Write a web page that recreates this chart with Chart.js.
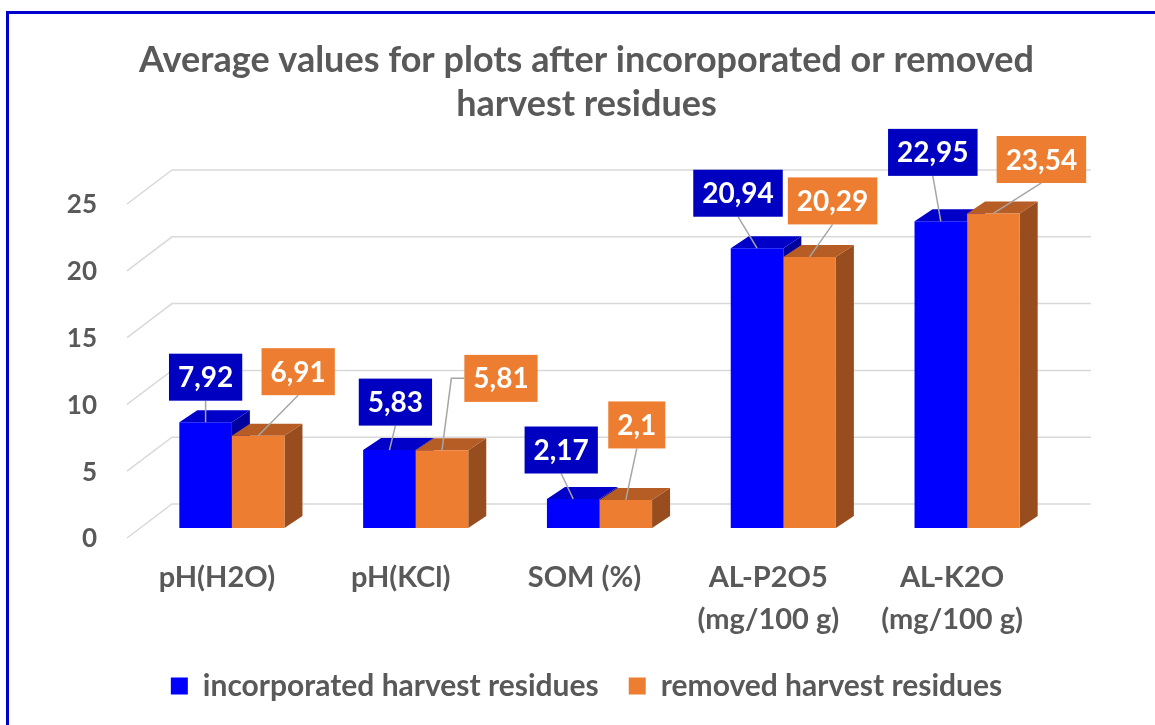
<!DOCTYPE html>
<html>
<head>
<meta charset="utf-8">
<script src="https://cdn.jsdelivr.net/npm/chart.js@4"></script>
<style>
  html, body { margin: 0; padding: 0; background: #fff; overflow: hidden; }
  #wrap { position: relative; width: 1155px; height: 725px; }
  #frame { position: absolute; left: 6px; top: 11px; right: -20px; bottom: -20px;
           border: 3px solid #0000cc; pointer-events: none; }
</style>
</head>
<body>
<div id="wrap">
  <canvas id="chart" width="1155" height="725"></canvas>
  <div id="frame"></div>
</div>
<script>
// data
const categories = ['pH(H2O)', 'pH(KCl)', 'SOM (%)', ['AL-P2O5', '(mg/100 g)'], ['AL-K2O', '(mg/100 g)']];
const incorporated = [7.92, 5.83, 2.17, 20.94, 22.95];
const removed = [6.91, 5.81, 2.1, 20.29, 23.54];
const yTicks = [0, 5, 10, 15, 20, 25];

// label box placement relative to bar top (px), as moved in the original
const incLabelPos = [[0, -45], [6, -48], [-12, -49], [-19, -55], [-8, -69]];
const remLabelPos = [[40, -64], [59, -72], [11, -75], [23, -56], [48, -54]];

const FONT = 'Lato, "Open Sans", sans-serif';
const GREY = '#595959';
const BAR_DX = 18, BAR_DY = -12;      // bar depth
const WALL_BACK = [32, -24];          // back wall offset from bar plane
const WALL_FRONT = [-13, 10];         // front floor edge offset

const faces = [
  { front: '#0000ff', top: '#0000c8', side: '#00009e', box: '#0000c0' },
  { front: '#ed7d31', top: '#b55d24', side: '#974d1e', box: '#ed7d31' }
];

function poly(ctx, pts, color) {
  ctx.beginPath();
  ctx.moveTo(pts[0][0], pts[0][1]);
  for (let i = 1; i < pts.length; i++) ctx.lineTo(pts[i][0], pts[i][1]);
  ctx.closePath();
  ctx.fillStyle = color;
  ctx.fill();
}

// walls, grid and the 3D sides of the bars
const depthPlugin = {
  id: 'depth',
  beforeDatasetsDraw(chart) {
    const ctx = chart.ctx;
    const y = chart.scales.y;
    const area = chart.chartArea;
    ctx.save();
    ctx.strokeStyle = '#d9d9d9';
    ctx.lineWidth = 1.5;
    yTicks.forEach(v => {
      const py = y.getPixelForValue(v);
      ctx.beginPath();
      ctx.moveTo(area.left + WALL_FRONT[0], py + WALL_FRONT[1]);
      ctx.lineTo(area.left + WALL_BACK[0], py + WALL_BACK[1]);
      ctx.lineTo(area.right + WALL_BACK[0], py + WALL_BACK[1]);
      ctx.stroke();
    });
    for (let i = 0; i < categories.length; i++) {
      chart.data.datasets.forEach((ds, d) => {
        const bar = chart.getDatasetMeta(d).data[i];
        const l = bar.x - bar.width / 2, r = bar.x + bar.width / 2;
        const t = bar.y, b = bar.base;
        poly(ctx, [[r, t], [r + BAR_DX, t + BAR_DY], [r + BAR_DX, b + BAR_DY], [r, b]], faces[d].side);
        poly(ctx, [[l, t], [r, t], [r + BAR_DX, t + BAR_DY], [l + BAR_DX, t + BAR_DY]], faces[d].top);
      });
    }
    ctx.restore();
  }
};

// value boxes with leader lines
const labelPlugin = {
  id: 'valueBoxes',
  afterDatasetsDraw(chart) {
    const ctx = chart.ctx;
    ctx.save();
    ctx.font = 'bold 28px ' + FONT;
    ctx.textAlign = 'center';
    ctx.textBaseline = 'middle';
    chart.data.datasets.forEach((ds, d) => {
      const pos = d === 0 ? incLabelPos : remLabelPos;
      chart.getDatasetMeta(d).data.forEach((bar, i) => {
        const txt = String(ds.data[i]).replace('.', ',');
        const w = ctx.measureText(txt).width + 18, h = 47;
        const cx = bar.x + pos[i][0], cy = bar.y + pos[i][1];
        ctx.strokeStyle = '#a6a6a6';
        ctx.lineWidth = 1.5;
        ctx.beginPath();
        if (d === 1 && i === 1) {
          ctx.moveTo(cx - w / 2, cy);
          ctx.lineTo(cx - w / 2 - 13, cy);
        } else {
          ctx.moveTo(cx, cy + h / 2);
        }
        ctx.lineTo(bar.x, bar.y);
        ctx.stroke();
        ctx.fillStyle = faces[d].box;
        ctx.fillRect(cx - w / 2, cy - h / 2, w, h);
        ctx.fillStyle = '#ffffff';
        ctx.fillText(txt, cx, cy + 1);
      });
    });
    ctx.restore();
  }
};

new Chart(document.getElementById('chart'), {
  type: 'bar',
  data: {
    labels: categories,
    datasets: [
      { label: 'incorporated harvest residues', data: incorporated, backgroundColor: faces[0].front },
      { label: 'removed harvest residues', data: removed, backgroundColor: faces[1].front }
    ]
  },
  options: {
    responsive: false,
    animation: false,
    categoryPercentage: 0.572,
    barPercentage: 1.0,
    layout: { padding: { left: 18, right: 0, top: 0, bottom: 14 } },
    scales: {
      x: {
        grid: { display: false, drawTicks: false },
        border: { display: false },
        ticks: {
          color: GREY,
          font: { family: FONT, size: 29, weight: 'bold', lineHeight: 1.45 },
          padding: 29,
          labelOffset: -15,
          maxRotation: 0,
          autoSkip: false
        },
        afterFit(scale) { scale.height = 113; }
      },
      y: {
        min: 0,
        max: 25,
        grid: { display: false, drawTicks: false },
        border: { display: false },
        ticks: {
          stepSize: 5,
          color: GREY,
          font: { family: FONT, size: 26, weight: 'bold' },
          padding: 43,
          labelOffset: 11
        },
        afterFit(scale) { scale.width = 122; }
      },
      y2: {
        position: 'right',
        grid: { display: false, drawTicks: false },
        border: { display: false },
        ticks: { display: false },
        afterFit(scale) { scale.width = 96; }
      }
    },
    plugins: {
      title: {
        display: true,
        text: ['Average values for plots after incoroporated or removed', 'harvest residues'],
        color: GREY,
        font: { family: FONT, size: 36, weight: 'bold', lineHeight: 1.222 },
        padding: { top: 38, bottom: 68 }
      },
      legend: {
        position: 'bottom',
        labels: {
          boxWidth: 17,
          boxHeight: 17,
          padding: 30,
          color: GREY,
          font: { family: FONT, size: 30, weight: 'bold' }
        }
      },
      tooltip: { enabled: false }
    }
  },
  plugins: [depthPlugin, labelPlugin]
});
</script>
</body>
</html>
